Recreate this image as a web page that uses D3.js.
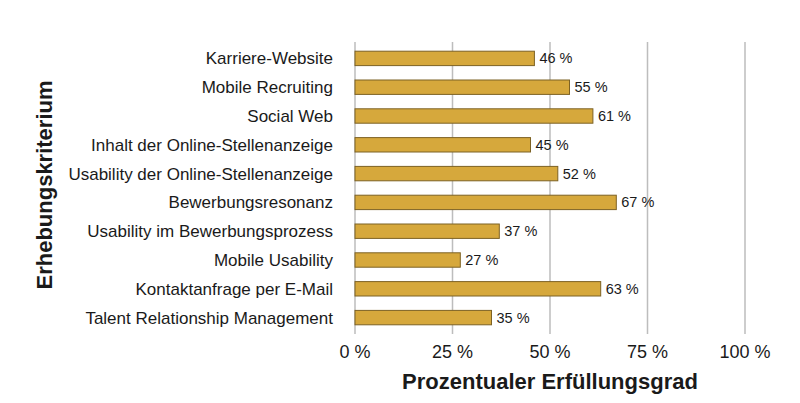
<!DOCTYPE html>
<html>
<head>
<meta charset="utf-8">
<script src="https://cdn.jsdelivr.net/npm/d3@7"></script>
<style>
  body { margin: 0; background: #fff; }
  svg text { font-family: "Liberation Sans", Arial, sans-serif; fill: #1a1a1a; }
</style>
</head>
<body>
<svg width="800" height="403"></svg>
<script>
var categories = [
    "Karriere-Website",
    "Mobile Recruiting",
    "Social Web",
    "Inhalt der Online-Stellenanzeige",
    "Usability der Online-Stellenanzeige",
    "Bewerbungsresonanz",
    "Usability im Bewerbungsprozess",
    "Mobile Usability",
    "Kontaktanfrage per E-Mail",
    "Talent Relationship Management"
]
var values = [46, 55, 61, 45, 52, 67, 37, 27, 63, 35]
var ticks = [0, 25, 50, 75, 100]

function renderChart() {
    var svg = d3.select("svg")

    var xScale = d3.scaleLinear().domain([0, 100]).range([355, 745])
    var yScale = d3.scaleBand().domain(categories).range([44, 332]).paddingInner(0.5).paddingOuter(0.25)

    // gridlines
    svg.append("g")
        .selectAll("line")
        .data(ticks)
        .enter()
        .append("line")
        .attr("x1", d => xScale(d))
        .attr("x2", d => xScale(d))
        .attr("y1", 42)
        .attr("y2", 334)
        .attr("stroke", "#bdbdbd")
        .attr("stroke-width", 1.5)

    // bars
    svg.append("g")
        .selectAll("rect")
        .data(values)
        .enter()
        .append("rect")
        .attr("x", xScale(0))
        .attr("y", (d, i) => yScale(categories[i]))
        .attr("width", d => xScale(d) - xScale(0))
        .attr("height", yScale.bandwidth())
        .attr("fill", "#d6a83c")
        .attr("stroke", "#7d6224")
        .attr("stroke-width", 1)

    // value labels
    svg.append("g")
        .selectAll("text")
        .data(values)
        .enter()
        .append("text")
        .attr("x", d => xScale(d) + 5)
        .attr("y", (d, i) => yScale(categories[i]) + yScale.bandwidth() / 2)
        .attr("dy", "0.35em")
        .style("font-size", "14.5px")
        .text(d => d + " %")

    // category labels
    svg.append("g")
        .selectAll("text")
        .data(categories)
        .enter()
        .append("text")
        .attr("x", 333)
        .attr("y", d => yScale(d) + yScale.bandwidth() / 2)
        .attr("dy", "0.35em")
        .attr("text-anchor", "end")
        .style("font-size", "17px")
        .text(d => d)

    // x tick labels
    svg.append("g")
        .selectAll("text")
        .data(ticks)
        .enter()
        .append("text")
        .attr("x", d => xScale(d))
        .attr("y", 358)
        .attr("text-anchor", "middle")
        .style("font-size", "18px")
        .text(d => d + " %")

    // axis titles
    svg.append("text")
        .attr("x", 550)
        .attr("y", 389)
        .attr("text-anchor", "middle")
        .style("font-size", "22px")
        .style("font-weight", "bold")
        .text("Prozentualer Erfüllungsgrad")

    svg.append("text")
        .attr("transform", "translate(52,185) rotate(-90)")
        .attr("text-anchor", "middle")
        .style("font-size", "22px")
        .style("font-weight", "bold")
        .text("Erhebungskriterium")
}

renderChart()
</script>
</body>
</html>
